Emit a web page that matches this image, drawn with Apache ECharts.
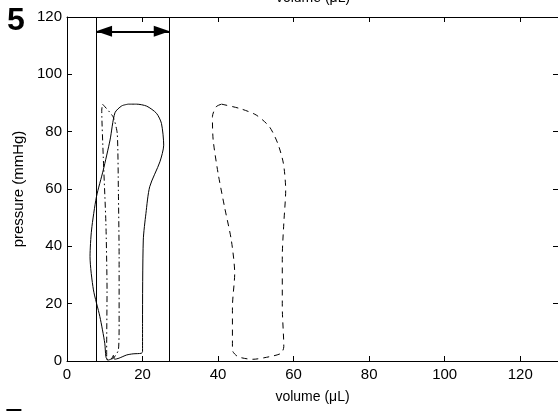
<!DOCTYPE html>
<html>
<head>
<meta charset="utf-8">
<script src="https://cdn.jsdelivr.net/npm/echarts@6/dist/echarts.min.js"></script>
<style>html,body{margin:0;padding:0;background:#fff}#c{width:558px;height:411px}</style>
</head>
<body>
<div id="c"></div>
<script>
// ---- data ----
const xTicks = [0, 20, 40, 60, 80, 100, 120];
const yTicks = [0, 20, 40, 60, 80, 100, 120];
const xRange = [0, 130];
const yRange = [0, 120];

const solidVol = [16.2, 18.4, 21.1, 23.7, 25.0, 25.6, 24.6, 21.9, 20.9, 20.2, 20.0, 20.0, 19.7, 17.5, 15.8, 13.8, 12.6, 12.3, 11.8, 10.8, 10.3, 10.0, 8.7, 7.0, 6.1, 6.5, 7.8, 9.6, 11.4, 12.7, 14.5, 16.2];
const solidP   = [89.6, 89.6, 88.9, 86.4, 82.9, 75.3, 69.5, 60.8, 51.5, 42.2, 13.1, 3.3, 2.7, 2.5, 2.1, 1.0, 0.6, 2.0, 0.8, 0.3, 1.5, 6.2, 15.5, 24.8, 36.4, 45.7, 57.3, 66.6, 77.1, 86.6, 89.0, 89.6];

const dashDotVol = [9.4, 12.2, 13.3, 13.6, 13.8, 13.8, 13.6, 12.2, 10.5, 10.5, 10.6, 10.3, 9.6, 9.2, 9.4];
const dashDotP   = [89.6, 85.2, 79.4, 59.6, 36.4, 13.1, 3.8, 0.9, 0.6, 3.8, 24.8, 48.0, 71.3, 87.5, 89.6];

const dashedVol = [40.9, 45.7, 50.1, 53.6, 55.8, 57.3, 57.9, 57.4, 57.0, 57.0, 57.4, 56.7, 53.6, 49.2, 45.3, 43.8, 43.8, 44.4, 43.5, 41.7, 40.0, 38.7, 38.5, 39.5, 40.9];
const dashedP   = [89.6, 88.1, 85.8, 81.7, 75.9, 68.9, 59.6, 48.0, 36.4, 18.9, 5.0, 2.7, 1.5, 0.6, 1.5, 3.8, 18.9, 30.6, 42.2, 53.8, 65.5, 77.1, 85.2, 88.7, 89.6];

const bracketVol = [7.7, 27.2];
const arrowP = 115;

const xLabel = 'volume (\u03bcL)';
const yLabel = 'pressure (mmHg)';
const panelLabel = '5';
const nextPanelLabel = '7';

// ---- chart ----
const zip = (a, b) => a.map((v, i) => [v, b[i]]);
const font = 'Liberation Sans, Arial, Helvetica, sans-serif';
const axLine = { show: true, onZero: false, lineStyle: { color: '#000', width: 1 } };
const tick = { show: true, inside: true, length: 5, lineStyle: { color: '#000', width: 1 } };
// triangle whose tip sits at the symbol centre, so arrow tips touch the bracket lines
const arrowHead = 'path://M5,0L5,0M5,10L10,20L0,20Z';

const chart = echarts.init(document.getElementById('c'), null, { renderer: 'canvas' });
const line = (data, type, smooth) => ({
  type: 'line', data, showSymbol: false, symbol: 'none', silent: true, animation: false,
  smooth: smooth || false,
  lineStyle: { color: '#000', width: 1, type }
});

const option = {
  animation: false,
  backgroundColor: '#fff',
  grid: { left: 67, top: 17, right: -1, bottom: 50, containLabel: false },
  xAxis: [
    { type: 'value', position: 'bottom', min: xRange[0], max: xRange[1],
      axisLine: axLine, axisTick: Object.assign({ customValues: xTicks }, tick),
      axisLabel: { customValues: xTicks, color: '#000', fontSize: 15, fontFamily: font, margin: 6 },
      splitLine: { show: false },
      name: xLabel, nameLocation: 'middle', nameGap: 29,
      nameTextStyle: { color: '#000', fontSize: 14, fontFamily: font } },
    { type: 'value', position: 'top', min: xRange[0], max: xRange[1],
      axisLine: axLine, axisTick: Object.assign({ customValues: xTicks }, tick),
      axisLabel: { show: false }, splitLine: { show: false } }
  ],
  yAxis: [
    { type: 'value', position: 'left', min: yRange[0], max: yRange[1], interval: 20,
      axisLine: axLine, axisTick: tick,
      axisLabel: { color: '#000', fontSize: 15, fontFamily: font, margin: 5 },
      splitLine: { show: false },
      name: yLabel, nameLocation: 'middle', nameGap: 40,
      nameTextStyle: { color: '#000', fontSize: 15, fontFamily: font } },
    { type: 'value', position: 'right', min: yRange[0], max: yRange[1], interval: 20,
      axisLine: axLine, axisTick: tick, axisLabel: { show: false }, splitLine: { show: false } }
  ],
  series: [
    line(zip(solidVol, solidP), 'solid', 0.25),
    line(zip(dashDotVol, dashDotP), [6, 3, 1.5, 3], 0.2),
    line(zip(dashedVol, dashedP), [6, 5], 0.25),
    {
      type: 'line', data: [], silent: true,
      markLine: {
        silent: true, animation: false, label: { show: false },
        lineStyle: { color: '#000', width: 1, type: 'solid' },
        symbol: ['none', 'none'],
        data: [
          [{ coord: [bracketVol[0], yRange[0]] }, { coord: [bracketVol[0], yRange[1]] }],
          [{ coord: [bracketVol[1], yRange[0]] }, { coord: [bracketVol[1], yRange[1]] }],
          [{ coord: [bracketVol[0], arrowP], symbol: arrowHead, symbolSize: [11, 32] },
           { coord: [bracketVol[1], arrowP], symbol: arrowHead, symbolSize: [11, 32],
             lineStyle: { width: 2 } }]
        ]
      }
    }
  ],
  graphic: [
    { type: 'text', left: 7, top: 5, style: { text: panelLabel, fill: '#000', font: 'bold 32px ' + font } },
    { type: 'text', left: 5, top: 406, style: { text: nextPanelLabel, fill: '#000', font: 'bold 32px ' + font } },
    { type: 'text', x: 313, y: 5, style: { text: xLabel, fill: '#000', font: '14px ' + font, align: 'center', verticalAlign: 'bottom' } }
  ]
};
chart.setOption(option);
</script>
</body>
</html>
